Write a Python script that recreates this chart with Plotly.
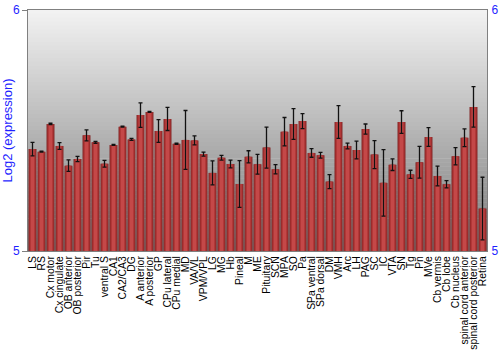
import plotly.graph_objects as go

regions = ["LS", "RS", "Cx motor", "Cx cingulate", "OB anterior", "OB posterior", "Pir", "Tu",
           "ventral S", "CA1", "CA2/CA3", "DG", "A anterior", "A posterior", "GP", "CPu lateral",
           "CPu medial", "MD", "VA/VL", "VPM/VPL", "LG", "MG", "Hb", "Pineal", "M", "ME",
           "Pituitary", "SCN", "MPA", "SO", "Pa", "SPa ventral", "SPa dorsal", "DM", "VMH", "Arc",
           "LH", "PAG", "SC", "IC", "VTA", "SN", "Tg", "Pn", "MVe", "Cb vermis", "Cb lobe",
           "Cb nucleus", "spinal cord anterior", "spinal cord posterior", "Retina"]

expression = [5.423, 5.412, 5.527, 5.436, 5.354, 5.382, 5.480, 5.451,
              5.362, 5.440, 5.516, 5.463, 5.564, 5.577, 5.498, 5.548,
              5.445, 5.461, 5.459, 5.402, 5.324, 5.387, 5.361, 5.278, 5.391, 5.360,
              5.429, 5.339, 5.495, 5.527, 5.539, 5.407, 5.397, 5.288, 5.535, 5.436,
              5.419, 5.506, 5.400, 5.283, 5.358, 5.535, 5.318, 5.368, 5.473, 5.311, 5.277,
              5.393, 5.470, 5.598, 5.176]

error = [0.028, 0.002, 0.003, 0.014, 0.024, 0.011, 0.023, 0.004,
         0.014, 0.002, 0.002, 0.004, 0.051, 0.002, 0.047, 0.048,
         0.002, 0.122, 0.019, 0.008, 0.050, 0.010, 0.016, 0.097, 0.025, 0.041,
         0.085, 0.019, 0.059, 0.064, 0.031, 0.018, 0.012, 0.029, 0.068, 0.012,
         0.037, 0.021, 0.058, 0.138, 0.024, 0.047, 0.017, 0.066, 0.039, 0.041, 0.015,
         0.036, 0.037, 0.084, 0.130]

y_ticks = [5, 6]
y_title = "Log2 (expression)"

fig = go.Figure()

# background gradient (light top -> darker bottom)
n = 60
top = (243, 243, 243)
bot = (122, 122, 122)
for i in range(n):
    t = (i + 0.5) / n
    c = tuple(int(round(top[k] + (bot[k] - top[k]) * t)) for k in range(3))
    fig.add_shape(type="rect", xref="paper", yref="paper",
                  x0=0, x1=1, y0=1 - (i + 1) / n, y1=1 - i / n + 0.002,
                  fillcolor="rgb(%d,%d,%d)" % c, line=dict(width=0), layer="below")

heights = [v - 5 for v in expression]
# cylinder-like bars: dark base + lighter inner layers
fig.add_trace(go.Bar(x=regions, y=heights, base=5, width=0.88,
                     marker=dict(color="#7e1f1f", line=dict(width=0)), hoverinfo="skip"))
fig.add_trace(go.Bar(x=regions, y=heights, base=5, width=0.7,
                     marker=dict(color="#ab3333", line=dict(width=0)), hoverinfo="skip"))
fig.add_trace(go.Bar(x=regions, y=heights, base=5, width=0.4,
                     marker=dict(color="#c44848", line=dict(width=0)),
                     error_y=dict(type="data", array=error, color="#111111",
                                  thickness=1.3, width=2)))
# right axis mirror trace (invisible)
fig.add_trace(go.Scatter(x=[regions[0]], y=[5], yaxis="y2", mode="markers",
                         marker=dict(opacity=0), showlegend=False, hoverinfo="skip"))

fig.update_layout(
    width=500, height=350,
    margin=dict(l=28, r=13, t=10, b=99, autoexpand=False),
    barmode="overlay",
    showlegend=False,
    paper_bgcolor="white",
    plot_bgcolor="rgba(0,0,0,0)",
    font=dict(family="Liberation Sans, Arial", size=10, color="black"),
    xaxis=dict(tickangle=-90, tickfont=dict(size=10.4, color="black"),
               tickmode="array", tickvals=regions, ticktext=regions,
               automargin=False, ticklen=1, ticks="",
               showline=True, linecolor="#808080", linewidth=1, mirror=True,
               showgrid=False, range=[-0.5, len(regions) - 0.5]),
    yaxis=dict(range=[5, 6], tickvals=y_ticks, ticks="outside", ticklen=5,
               tickcolor="#808080", showgrid=False, zeroline=False, automargin=False,
               showline=True, linecolor="#808080", linewidth=1,
               tickfont=dict(color="#1f1fff", size=12),
               title=dict(text=y_title, font=dict(color="#1f1fff", size=13), standoff=2)),
    yaxis2=dict(range=[5, 6], tickvals=y_ticks, ticks="", ticklabelstandoff=1,
                overlaying="y", side="right", showgrid=False,
                zeroline=False, showline=True, linecolor="#808080", linewidth=1,
                automargin=False, tickfont=dict(color="#1f1fff", size=12)),
)

fig.write_html("out.html")
